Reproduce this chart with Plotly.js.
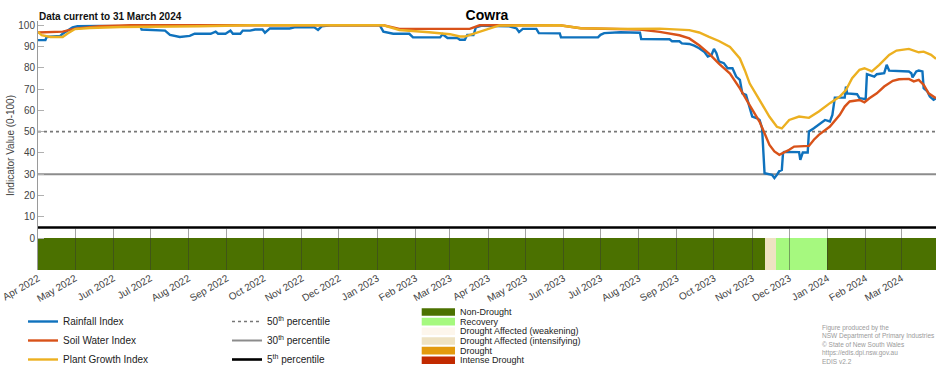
<!DOCTYPE html>
<html><head><meta charset="utf-8">
<script src="https://cdn.plot.ly/plotly-3.0.1.min.js"></script>
<style>html,body{margin:0;padding:0;background:#fff}#chart{width:952px;height:370px}</style>
</head><body><div id="chart"></div>
<script>
// ---------- DATA ----------
const rainDates = ['2022-04-01','2022-04-07','2022-04-08','2022-04-19','2022-04-21','2022-04-25','2022-04-29','2022-05-03','2022-05-21','2022-06-23','2022-06-24','2022-07-13','2022-07-17','2022-07-25','2022-08-02','2022-08-06','2022-08-19','2022-08-23','2022-08-25','2022-08-31','2022-09-04','2022-09-06','2022-09-12','2022-09-14','2022-09-20','2022-09-24','2022-09-30','2022-10-02','2022-10-06','2022-10-22','2022-10-26','2022-11-11','2022-11-14','2022-11-17','2022-11-24','2023-01-03','2023-01-06','2023-01-14','2023-01-27','2023-01-30','2023-02-21','2023-02-23','2023-02-27','2023-03-07','2023-03-09','2023-03-13','2023-03-15','2023-03-20','2023-03-22','2023-03-27','2023-04-18','2023-04-24','2023-04-26','2023-04-29','2023-05-10','2023-05-12','2023-05-29','2023-05-30','2023-06-29','2023-07-01','2023-07-04','2023-07-17','2023-08-02','2023-08-03','2023-08-26','2023-08-28','2023-09-03','2023-09-05','2023-09-11','2023-09-15','2023-09-19','2023-09-23','2023-09-26','2023-09-29','2023-10-01','2023-10-03','2023-10-05','2023-10-09','2023-10-12','2023-10-16','2023-10-19','2023-10-22','2023-10-24','2023-10-27','2023-10-30','2023-11-01','2023-11-05','2023-11-07','2023-11-09','2023-11-11','2023-11-17','2023-11-19','2023-11-21','2023-11-23','2023-11-25','2023-11-26','2023-11-27','2023-12-09','2023-12-10','2023-12-12','2023-12-16','2023-12-17','2023-12-21','2023-12-25','2023-12-30','2024-01-03','2024-01-05','2024-01-07','2024-01-15','2024-01-16','2024-01-17','2024-01-25','2024-01-27','2024-02-01','2024-02-02','2024-02-08','2024-02-10','2024-02-16','2024-02-18','2024-02-20','2024-03-07','2024-03-09','2024-03-10','2024-03-13','2024-03-15','2024-03-18','2024-03-19','2024-03-22','2024-03-24','2024-03-27','2024-03-29'];
const rainValues = [93,93,94.5,95,96,97.5,99,99.5,99.7,99.5,98,97.5,95.5,94.5,95,96,96,97,96,96,97.5,96,96,97.5,97.5,98,98,96.5,98.5,98.5,99,99,97.8,99.5,100,100,97,96,96,94.3,94.3,95.8,94,94,93.2,93.2,95.4,95.4,99,99.8,99.5,98.5,96.8,98.3,98.3,96.3,96.2,94.3,94.3,95.5,96.3,96.7,96.5,93.5,93.4,92.5,92.5,91.5,91.2,90.4,89.2,87.6,85.3,86,88.9,86.9,83,82.2,79.8,79.8,75.9,74.3,68,67.3,61,57.1,56.3,55.5,51.6,30.5,29.7,28.2,29.7,31.5,32,40,40.5,40.4,36.8,40.2,40.2,50.1,51.6,53.2,55.5,54.8,57.9,66,66,71.2,68,67.6,65.7,65.3,77,75.9,77,77.5,81.4,78.7,78.3,77.5,75.5,78.3,78.7,78.3,70.4,68.9,66.5,65,65.7];

const soilDates = ['2022-04-01','2022-04-21','2022-05-01','2022-05-21','2022-06-15','2023-01-06','2023-01-19','2023-03-17','2023-03-25','2023-05-29','2023-06-15','2023-08-02','2023-08-18','2023-09-03','2023-09-11','2023-09-19','2023-09-27','2023-10-05','2023-10-14','2023-10-22','2023-10-30','2023-11-07','2023-11-11','2023-11-15','2023-11-19','2023-11-23','2023-12-01','2023-12-05','2023-12-17','2023-12-21','2023-12-25','2024-01-03','2024-01-11','2024-01-15','2024-01-19','2024-01-27','2024-01-31','2024-02-04','2024-02-10','2024-02-16','2024-02-23','2024-02-28','2024-03-07','2024-03-11','2024-03-15','2024-03-19','2024-03-23','2024-03-29'];
const soilValues = [96.6,97,98.4,99.5,100,100,98.3,98.3,100,100,98.6,98,96.9,95.3,93.8,90.6,86.7,82,77.3,70.3,62.4,54.6,49.3,43.8,40.7,39.1,41.5,43,43.3,46.2,48.5,52.4,57.9,61.8,64.2,64.9,63.8,65.7,68,71.2,73.9,74.6,74.8,73.6,74.3,72,68,65.7];

const plantDates = ['2022-04-01','2022-04-04','2022-04-11','2022-04-21','2022-04-25','2022-05-01','2022-05-13','2022-06-07','2022-08-10','2022-09-20','2023-01-06','2023-01-19','2023-02-12','2023-03-01','2023-03-09','2023-03-13','2023-03-21','2023-04-02','2023-04-10','2023-05-29','2023-06-15','2023-07-17','2023-08-18','2023-09-11','2023-09-19','2023-09-27','2023-10-05','2023-10-14','2023-10-22','2023-10-26','2023-10-30','2023-11-07','2023-11-15','2023-11-21','2023-11-25','2023-12-01','2023-12-09','2023-12-17','2023-12-25','2024-01-03','2024-01-11','2024-01-16','2024-01-21','2024-01-27','2024-01-31','2024-02-06','2024-02-12','2024-02-20','2024-02-26','2024-03-07','2024-03-11','2024-03-15','2024-03-19','2024-03-25','2024-03-29'];
const plantValues = [96.9,95.3,94.5,94.5,96.1,98.2,98.7,99.2,99.5,100,100,97.8,96.7,95.8,94.7,94.7,96.2,98.6,99.9,100,98.6,98.3,98.4,97.7,96.6,94.5,92.6,89.8,84.4,78.9,72.6,64.8,57,52.3,51.5,55.5,57.1,56.5,59.5,63.4,66.5,69.6,75.1,79.1,79.8,78.3,81.4,86.1,88.1,88.9,88,87.3,87.6,86.1,84.2];

const percentileValues = [50, 30, 5];
const percentileNames = ['50<sup>th</sup> percentile', '30<sup>th</sup> percentile', '5<sup>th</sup> percentile'];

const statusStart = ['2022-04-01','2023-11-11','2023-11-20','2024-01-01'];
const statusEnd   = ['2023-11-11','2023-11-20','2024-01-01','2024-03-29'];
const statusCategory = ['Non-Drought','Drought Affected (intensifying)','Recovery','Non-Drought'];

const droughtCategories = ['Non-Drought','Recovery','Drought Affected (weakening)','Drought Affected (intensifying)','Drought','Intense Drought'];
const droughtColors = ['#4b7100','#a6f97f','#fdf6ec','#eee2c2','#e39a0d','#c22a00'];

const indexNames = ['Rainfall Index','Soil Water Index','Plant Growth Index'];
const yTicks = [0,10,20,30,40,50,60,70,80,90,100];
const xStart = '2022-04-01', xEnd = '2024-03-29';
const attribution = 'Figure produced by the<br>NSW Department of Primary Industries<br>© State of New South Wales<br>https://edis.dpi.nsw.gov.au<br>EDIS v2.2';

// ---------- LAYOUT HELPERS ----------
const W = 952, H = 370, ML = 38, MR = 16, MT = 21, MB = 100;
const plotW = W - ML - MR, plotH = H - MT - MB;
const px2x = px => (px - ML) / plotW;
const py2y = py => (H - MB - py) / plotH;
const FONT = 'Liberation Sans, Arial, sans-serif';

// ---------- TRACES ----------
const traces = [];
const colorOf = c => droughtColors[droughtCategories.indexOf(c)];
const bx = [], bw = [], bc = [];
for (let i = 0; i < statusStart.length; i++) {
  const s = new Date(statusStart[i] + 'T00:00:00Z').getTime();
  const e = new Date(statusEnd[i] + 'T00:00:00Z').getTime();
  bx.push(new Date((s + e) / 2).toISOString());
  bw.push(e - s);
  bc.push(colorOf(statusCategory[i]));
}
traces.push({type:'bar', x:bx, y:bx.map(()=>15), base:-15, width:bw,
  marker:{color:bc, line:{width:0}}, showlegend:false, hoverinfo:'skip'});

const pStyles = [{color:'#777', width:1.6, dash:'dot'}, {color:'#8c8c8c', width:2, dash:'solid'}, {color:'#000', width:2.6, dash:'solid'}];
percentileValues.forEach((v, i) => {
  traces.push({type:'scatter', mode:'lines', x:[xStart, xEnd], y:[v, v], name:percentileNames[i],
    line:pStyles[i], legend:'legend2'});
});

const idx = [[rainDates, rainValues, '#0f72bd'], [soilDates, soilValues, '#d85219'], [plantDates, plantValues, '#ecb020']];
idx.forEach((d, i) => {
  traces.push({type:'scatter', mode:'lines', x:d[0], y:d[1], name:indexNames[i],
    line:{color:d[2], width:2.4}, legend:'legend'});
});

// ---------- CUSTOM DROUGHT LEGEND + ANNOTATIONS ----------
const shapes = [], annotations = [];
droughtCategories.forEach((c, i) => {
  const cy = 312 + i * 9.66;
  shapes.push({type:'rect', xref:'paper', yref:'paper', x0:px2x(421.7), x1:px2x(455), y0:py2y(cy + 3.8), y1:py2y(cy - 3.8),
    fillcolor:droughtColors[i], line:{width:0}});
  annotations.push({xref:'paper', yref:'paper', x:px2x(458), y:py2y(cy), xanchor:'left', yanchor:'middle',
    text:c, showarrow:false, font:{family:FONT, size:9, color:'#222'}});
});
annotations.push({xref:'paper', yref:'paper', x:px2x(37), y:py2y(16.5), xanchor:'left', yanchor:'middle',
  text:'<b>Data current to 31 March 2024</b>', showarrow:false, font:{family:FONT, size:10, color:'#111'}});
annotations.push({xref:'paper', yref:'paper', x:px2x(820), y:py2y(322), xanchor:'left', yanchor:'top', align:'left',
  text:attribution, showarrow:false, font:{family:FONT, size:6.5, color:'#9a9a9a'}});

const layout = {
  width:W, height:H, margin:{l:ML, r:MR, t:MT, b:MB, autoexpand:false},
  paper_bgcolor:'#fff', plot_bgcolor:'#fff',
  font:{family:FONT, color:'#444'},
  title:{text:'<b>Cowra</b>', font:{family:FONT, size:14, color:'#000'}, x:0.5, xref:'paper', y:1 - 15/H, yref:'container', yanchor:'middle'},
  showlegend:true,
  xaxis:{type:'date', range:[xStart, xEnd], tickmode:'linear', tick0:'2022-04-01', dtick:'M1', tickformat:'%b %Y',
    tickangle:-30, ticks:'inside', ticklen:42, tickcolor:'rgba(50,50,50,0.45)', tickwidth:1, showgrid:false, zeroline:false,
    showline:false, tickfont:{family:FONT, size:10, color:'#444'}, fixedrange:true},
  yaxis:{range:[-15, 102], tickmode:'array', tickvals:yTicks, ticks:'inside', ticklen:6, tickcolor:'#b0b0b0',
    showline:true, linecolor:'#9a9a9a', linewidth:1, showgrid:false, zeroline:false,
    tickfont:{family:FONT, size:10, color:'#444'}, fixedrange:true,
    title:{text:'Indicator Value (0-100)', font:{family:FONT, size:10, color:'#444'}, standoff:1}},
  legend:{x:px2x(23), y:py2y(307), xanchor:'left', yanchor:'top', bgcolor:'rgba(0,0,0,0)', itemwidth:30,
    font:{family:FONT, size:10, color:'#222'}, traceorder:'normal'},
  legend2:{x:px2x(227), y:py2y(307), xanchor:'left', yanchor:'top', bgcolor:'rgba(0,0,0,0)', itemwidth:30,
    font:{family:FONT, size:10, color:'#222'}, traceorder:'normal'},
  shapes:shapes, annotations:annotations, bargap:0
};

Plotly.newPlot('chart', traces, layout, {displayModeBar:false, staticPlot:true});
</script>
</body></html>
